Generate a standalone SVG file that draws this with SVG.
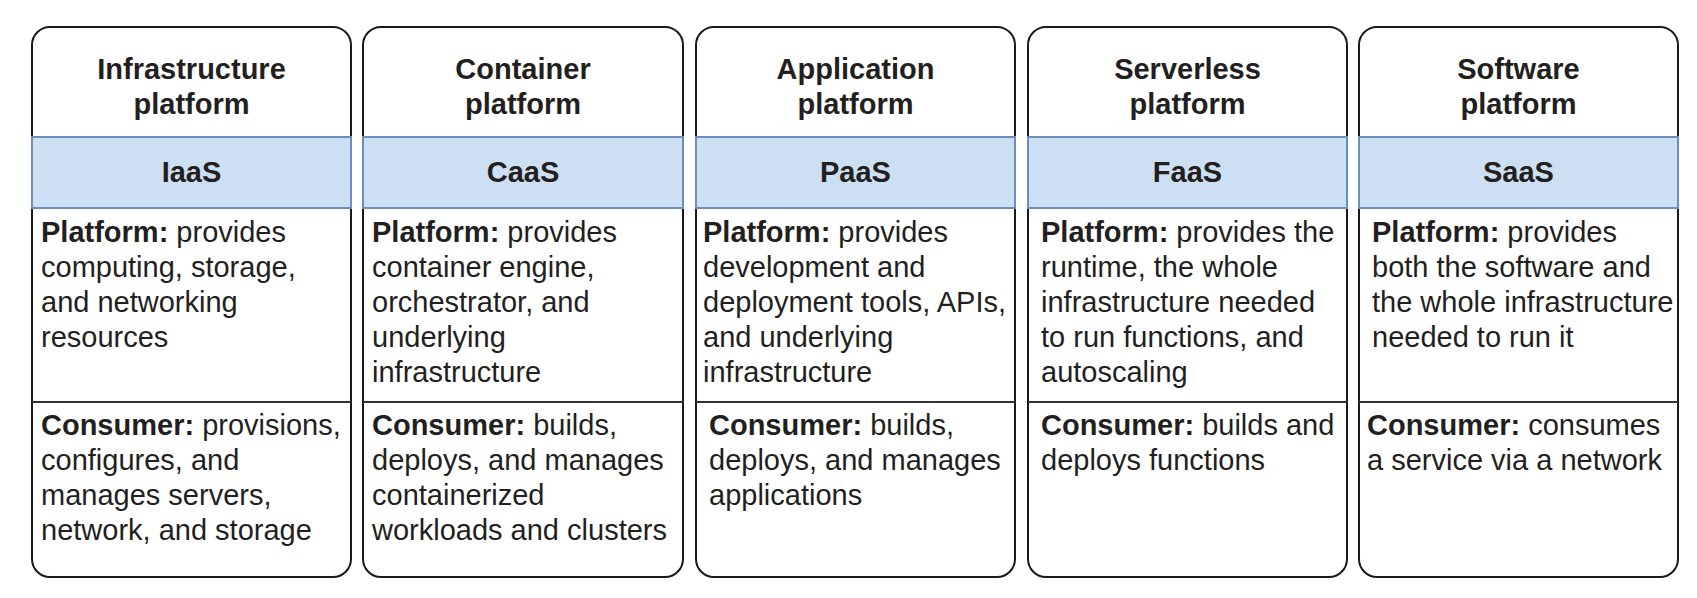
<svg xmlns="http://www.w3.org/2000/svg" width="1697" height="598" viewBox="0 0 1697 598">
<style>
.box{fill:#fff;stroke:#1a1a1a;stroke-width:2}
.band{fill:#cddff2;stroke:#6c8ebf;stroke-width:2}
.div{stroke:#333;stroke-width:2}
text{font-family:"Liberation Sans",Arial,sans-serif;font-size:29px;fill:#231f20}
.t{font-weight:bold;text-anchor:middle}
.b{font-weight:bold}
</style>
<rect width="1697" height="598" fill="#fff"/>
<g id="iaas">
<rect class="box" x="32" y="27" width="319" height="550" rx="18"/>
<rect class="band" x="32" y="137" width="319" height="71"/>
<line class="div" x1="32" y1="402" x2="351" y2="402"/>
<text class="t" x="191.5" y="79">Infrastructure</text>
<text class="t" x="191.5" y="114">platform</text>
<text class="t" x="191.5" y="182">IaaS</text>
<text x="41" y="242"><tspan class="b">Platform:</tspan> provides</text>
<text x="41" y="277">computing, storage,</text>
<text x="41" y="312">and networking</text>
<text x="41" y="347">resources</text>
<text x="41" y="435"><tspan class="b">Consumer:</tspan> provisions,</text>
<text x="41" y="470">configures, and</text>
<text x="41" y="505">manages servers,</text>
<text x="41" y="540">network, and storage</text>
</g>
<g id="caas">
<rect class="box" x="363" y="27" width="320" height="550" rx="18"/>
<rect class="band" x="363" y="137" width="320" height="71"/>
<line class="div" x1="363" y1="402" x2="683" y2="402"/>
<text class="t" x="523" y="79">Container</text>
<text class="t" x="523" y="114">platform</text>
<text class="t" x="523" y="182">CaaS</text>
<text x="372" y="242"><tspan class="b">Platform:</tspan> provides</text>
<text x="372" y="277">container engine,</text>
<text x="372" y="312">orchestrator, and</text>
<text x="372" y="347">underlying</text>
<text x="372" y="382">infrastructure</text>
<text x="372" y="435"><tspan class="b">Consumer:</tspan> builds,</text>
<text x="372" y="470">deploys, and manages</text>
<text x="372" y="505">containerized</text>
<text x="372" y="540">workloads and clusters</text>
</g>
<g id="paas">
<rect class="box" x="696" y="27" width="319" height="550" rx="18"/>
<rect class="band" x="696" y="137" width="319" height="71"/>
<line class="div" x1="696" y1="402" x2="1015" y2="402"/>
<text class="t" x="855.5" y="79">Application</text>
<text class="t" x="855.5" y="114">platform</text>
<text class="t" x="855.5" y="182">PaaS</text>
<text x="703" y="242"><tspan class="b">Platform:</tspan> provides</text>
<text x="703" y="277">development and</text>
<text x="703" y="312">deployment tools, APIs,</text>
<text x="703" y="347">and underlying</text>
<text x="703" y="382">infrastructure</text>
<text x="709" y="435"><tspan class="b">Consumer:</tspan> builds,</text>
<text x="709" y="470">deploys, and manages</text>
<text x="709" y="505">applications</text>
</g>
<g id="faas">
<rect class="box" x="1028" y="27" width="319" height="550" rx="18"/>
<rect class="band" x="1028" y="137" width="319" height="71"/>
<line class="div" x1="1028" y1="402" x2="1347" y2="402"/>
<text class="t" x="1187.5" y="79">Serverless</text>
<text class="t" x="1187.5" y="114">platform</text>
<text class="t" x="1187.5" y="182">FaaS</text>
<text x="1041" y="242"><tspan class="b">Platform:</tspan> provides the</text>
<text x="1041" y="277">runtime, the whole</text>
<text x="1041" y="312">infrastructure needed</text>
<text x="1041" y="347">to run functions, and</text>
<text x="1041" y="382">autoscaling</text>
<text x="1041" y="435"><tspan class="b">Consumer:</tspan> builds and</text>
<text x="1041" y="470">deploys functions</text>
</g>
<g id="saas">
<rect class="box" x="1359" y="27" width="319" height="550" rx="18"/>
<rect class="band" x="1359" y="137" width="319" height="71"/>
<line class="div" x1="1359" y1="402" x2="1678" y2="402"/>
<text class="t" x="1518.5" y="79">Software</text>
<text class="t" x="1518.5" y="114">platform</text>
<text class="t" x="1518.5" y="182">SaaS</text>
<text x="1372" y="242"><tspan class="b">Platform:</tspan> provides</text>
<text x="1372" y="277">both the software and</text>
<text x="1372" y="312">the whole infrastructure</text>
<text x="1372" y="347">needed to run it</text>
<text x="1367" y="435"><tspan class="b">Consumer:</tspan> consumes</text>
<text x="1367" y="470">a service via a network</text>
</g>
<g id="connectors"/>
</svg>
